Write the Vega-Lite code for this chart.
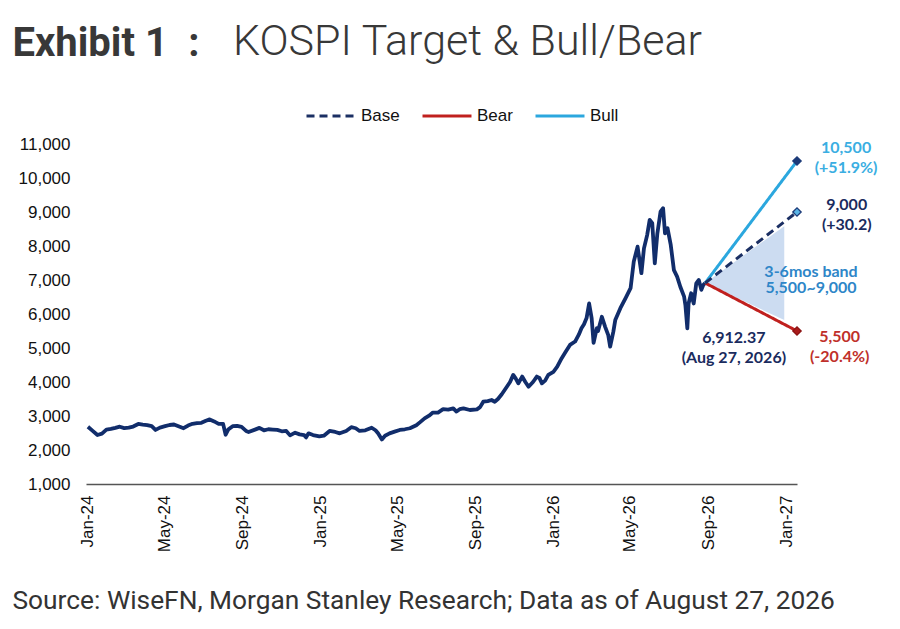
{
  "$schema": "https://vega.github.io/schema/vega-lite/v6.json",
  "width": 711,
  "height": 340,
  "autosize": "none",
  "padding": {"left": 86, "top": 144, "right": 103, "bottom": 145},
  "background": "white",
  "title": {
    "text": "KOSPI Target & Bull/Bear",
    "anchor": "start",
    "frame": "group",
    "dx": 147,
    "offset": -41,
    "font": "Roboto",
    "fontSize": 43,
    "fontWeight": 300,
    "color": "#383838"
  },
  "config": {
    "view": {"stroke": null},
    "font": "Liberation Sans",
    "legend": {
      "orient": "none",
      "legendX": 219,
      "legendY": -54,
      "direction": "horizontal",
      "symbolType": "stroke",
      "symbolSize": 2400,
      "symbolStrokeWidth": 3,
      "labelFontSize": 17,
      "labelFont": "Liberation Sans",
      "labelColor": "#111111",
      "columnPadding": 16,
      "labelOffset": 4
    }
  },
  "datasets": {
    "hist": [
      {"date": "2024-01-02", "value": 2685}, {"date": "2024-01-09", "value": 2570}, {"date": "2024-01-17", "value": 2440},
      {"date": "2024-01-24", "value": 2480}, {"date": "2024-01-31", "value": 2600}, {"date": "2024-02-07", "value": 2620},
      {"date": "2024-02-14", "value": 2650}, {"date": "2024-02-21", "value": 2685}, {"date": "2024-02-28", "value": 2645},
      {"date": "2024-03-06", "value": 2660}, {"date": "2024-03-13", "value": 2690}, {"date": "2024-03-21", "value": 2765},
      {"date": "2024-03-28", "value": 2745}, {"date": "2024-04-04", "value": 2730}, {"date": "2024-04-11", "value": 2700},
      {"date": "2024-04-17", "value": 2590}, {"date": "2024-04-24", "value": 2660}, {"date": "2024-05-02", "value": 2700},
      {"date": "2024-05-09", "value": 2735}, {"date": "2024-05-16", "value": 2750}, {"date": "2024-05-24", "value": 2690},
      {"date": "2024-05-31", "value": 2640}, {"date": "2024-06-07", "value": 2720}, {"date": "2024-06-14", "value": 2770},
      {"date": "2024-06-21", "value": 2790}, {"date": "2024-06-28", "value": 2800}, {"date": "2024-07-05", "value": 2860},
      {"date": "2024-07-11", "value": 2900}, {"date": "2024-07-18", "value": 2840}, {"date": "2024-07-25", "value": 2770},
      {"date": "2024-08-01", "value": 2770}, {"date": "2024-08-05", "value": 2450}, {"date": "2024-08-09", "value": 2600},
      {"date": "2024-08-16", "value": 2700}, {"date": "2024-08-23", "value": 2710}, {"date": "2024-08-30", "value": 2680},
      {"date": "2024-09-06", "value": 2560}, {"date": "2024-09-10", "value": 2530}, {"date": "2024-09-20", "value": 2600},
      {"date": "2024-09-27", "value": 2650}, {"date": "2024-10-04", "value": 2580}, {"date": "2024-10-11", "value": 2610},
      {"date": "2024-10-18", "value": 2600}, {"date": "2024-10-25", "value": 2590}, {"date": "2024-11-01", "value": 2550},
      {"date": "2024-11-08", "value": 2560}, {"date": "2024-11-14", "value": 2430}, {"date": "2024-11-22", "value": 2510},
      {"date": "2024-11-29", "value": 2460}, {"date": "2024-12-06", "value": 2440}, {"date": "2024-12-09", "value": 2370},
      {"date": "2024-12-13", "value": 2490}, {"date": "2024-12-20", "value": 2440}, {"date": "2024-12-30", "value": 2400},
      {"date": "2025-01-06", "value": 2420}, {"date": "2025-01-15", "value": 2560}, {"date": "2025-01-24", "value": 2530},
      {"date": "2025-01-31", "value": 2490}, {"date": "2025-02-10", "value": 2560}, {"date": "2025-02-18", "value": 2670},
      {"date": "2025-02-25", "value": 2640}, {"date": "2025-03-03", "value": 2560}, {"date": "2025-03-12", "value": 2580},
      {"date": "2025-03-22", "value": 2655}, {"date": "2025-03-28", "value": 2580}, {"date": "2025-04-01", "value": 2490},
      {"date": "2025-04-07", "value": 2310}, {"date": "2025-04-12", "value": 2420}, {"date": "2025-04-19", "value": 2490},
      {"date": "2025-04-27", "value": 2540}, {"date": "2025-05-05", "value": 2590}, {"date": "2025-05-13", "value": 2610},
      {"date": "2025-05-21", "value": 2640}, {"date": "2025-05-31", "value": 2730}, {"date": "2025-06-06", "value": 2820},
      {"date": "2025-06-13", "value": 2930}, {"date": "2025-06-20", "value": 3010}, {"date": "2025-06-26", "value": 3100},
      {"date": "2025-07-04", "value": 3100}, {"date": "2025-07-12", "value": 3200}, {"date": "2025-07-20", "value": 3190},
      {"date": "2025-07-28", "value": 3225}, {"date": "2025-08-02", "value": 3130}, {"date": "2025-08-07", "value": 3200},
      {"date": "2025-08-13", "value": 3225}, {"date": "2025-08-23", "value": 3176}, {"date": "2025-09-03", "value": 3196},
      {"date": "2025-09-08", "value": 3260}, {"date": "2025-09-13", "value": 3420}, {"date": "2025-09-20", "value": 3440},
      {"date": "2025-09-26", "value": 3470}, {"date": "2025-10-01", "value": 3420}, {"date": "2025-10-06", "value": 3500},
      {"date": "2025-10-12", "value": 3640}, {"date": "2025-10-20", "value": 3860}, {"date": "2025-10-25", "value": 4000},
      {"date": "2025-10-30", "value": 4210}, {"date": "2025-11-03", "value": 4100}, {"date": "2025-11-07", "value": 3960},
      {"date": "2025-11-13", "value": 4160}, {"date": "2025-11-18", "value": 4000}, {"date": "2025-11-23", "value": 3860},
      {"date": "2025-11-30", "value": 4000}, {"date": "2025-12-06", "value": 4160}, {"date": "2025-12-10", "value": 4120},
      {"date": "2025-12-14", "value": 3960}, {"date": "2025-12-19", "value": 4040}, {"date": "2025-12-24", "value": 4210},
      {"date": "2026-01-01", "value": 4300}, {"date": "2026-01-07", "value": 4450}, {"date": "2026-01-14", "value": 4700},
      {"date": "2026-01-20", "value": 4880}, {"date": "2026-01-27", "value": 5090}, {"date": "2026-02-04", "value": 5190},
      {"date": "2026-02-10", "value": 5400}, {"date": "2026-02-14", "value": 5580}, {"date": "2026-02-18", "value": 5700},
      {"date": "2026-02-22", "value": 5880}, {"date": "2026-02-26", "value": 6310}, {"date": "2026-03-02", "value": 5870},
      {"date": "2026-03-05", "value": 5150}, {"date": "2026-03-10", "value": 5580}, {"date": "2026-03-12", "value": 5500},
      {"date": "2026-03-18", "value": 5920}, {"date": "2026-03-23", "value": 5630}, {"date": "2026-03-28", "value": 5380},
      {"date": "2026-03-31", "value": 5040}, {"date": "2026-04-05", "value": 5480}, {"date": "2026-04-08", "value": 5820},
      {"date": "2026-04-16", "value": 6170}, {"date": "2026-04-24", "value": 6460}, {"date": "2026-05-02", "value": 6760},
      {"date": "2026-05-07", "value": 7540}, {"date": "2026-05-13", "value": 7980}, {"date": "2026-05-19", "value": 7200},
      {"date": "2026-05-23", "value": 7930}, {"date": "2026-05-28", "value": 8320}, {"date": "2026-06-01", "value": 8770},
      {"date": "2026-06-05", "value": 8670}, {"date": "2026-06-09", "value": 7490}, {"date": "2026-06-13", "value": 8370},
      {"date": "2026-06-18", "value": 9010}, {"date": "2026-06-22", "value": 9110}, {"date": "2026-06-25", "value": 8370},
      {"date": "2026-06-29", "value": 8520}, {"date": "2026-07-04", "value": 8030}, {"date": "2026-07-09", "value": 7290},
      {"date": "2026-07-14", "value": 7100}, {"date": "2026-07-19", "value": 6800}, {"date": "2026-07-25", "value": 6510},
      {"date": "2026-07-27", "value": 6260}, {"date": "2026-07-30", "value": 5580}, {"date": "2026-08-01", "value": 6310},
      {"date": "2026-08-05", "value": 6610}, {"date": "2026-08-09", "value": 6310}, {"date": "2026-08-13", "value": 6900},
      {"date": "2026-08-17", "value": 7000}, {"date": "2026-08-21", "value": 6710}, {"date": "2026-08-24", "value": 6850},
      {"date": "2026-08-27", "value": 6912.37}
    ],
    "proj": [
      {"scenario": "Bear", "date": "2026-08-27", "value": 6912.37},
      {"scenario": "Bear", "date": "2027-01-18", "value": 5500},
      {"scenario": "Bull", "date": "2026-08-27", "value": 6912.37},
      {"scenario": "Bull", "date": "2027-01-18", "value": 10500},
      {"scenario": "Base", "date": "2026-08-27", "value": 6912.37},
      {"scenario": "Base", "date": "2027-01-18", "value": 9000}
    ],
    "targets": [
      {"scenario": "Bear", "date": "2027-01-18", "value": 5500},
      {"scenario": "Bull", "date": "2027-01-18", "value": 10500},
      {"scenario": "Base", "date": "2027-01-18", "value": 9000}
    ],
    "band": [
      {"date": "2026-08-27", "low": 6912.37, "high": 6912.37},
      {"date": "2026-12-29", "low": 5820, "high": 8580}
    ],
    "notes": [
      {"kind": "Bull", "date": "2027-04-05", "value": 10880, "text": "10,500"},
      {"kind": "Bull", "date": "2027-04-05", "value": 10290, "text": "(+51.9%)"},
      {"kind": "Base", "date": "2027-04-06", "value": 9210, "text": "9,000"},
      {"kind": "Base", "date": "2027-04-06", "value": 8620, "text": "(+30.2)"},
      {"kind": "Band", "date": "2027-02-09", "value": 7235, "text": "3-6mos band"},
      {"kind": "Band", "date": "2027-02-09", "value": 6765, "text": "5,500~9,000"},
      {"kind": "Last", "date": "2026-10-11", "value": 5294, "text": "6,912.37"},
      {"kind": "Last", "date": "2026-10-11", "value": 4706, "text": "(Aug 27, 2026)"},
      {"kind": "Bear", "date": "2027-03-26", "value": 5323, "text": "5,500"},
      {"kind": "Bear", "date": "2027-03-26", "value": 4735, "text": "(-20.4%)"}
    ]
  },
  "layer": [
    {
      "data": {"name": "band"},
      "mark": {"type": "area", "color": "#c6d8ef", "opacity": 0.9},
      "encoding": {
        "x": {
          "field": "date",
          "type": "temporal",
          "scale": {"domain": ["2023-12-30", "2027-01-18"]},
          "axis": {
            "values": [
              {"year": 2024, "month": 1, "date": 1}, {"year": 2024, "month": 5, "date": 1}, {"year": 2024, "month": 9, "date": 1},
              {"year": 2025, "month": 1, "date": 1}, {"year": 2025, "month": 5, "date": 1}, {"year": 2025, "month": 9, "date": 1},
              {"year": 2026, "month": 1, "date": 1}, {"year": 2026, "month": 5, "date": 1}, {"year": 2026, "month": 9, "date": 1},
              {"year": 2027, "month": 1, "date": 1}
            ],
            "tickCount": 12,
            "format": "%b-%y",
            "labelAngle": -90,
            "labelAlign": "right",
            "labelBaseline": "middle",
            "labelFontSize": 17,
            "labelFont": "Liberation Sans",
            "labelColor": "#111111",
            "labelPadding": 11,
            "ticks": false,
            "grid": false,
            "domainColor": "#555555",
            "domainWidth": 1.5,
            "labelOverlap": false,
            "title": "Source: WiseFN, Morgan Stanley Research; Data as of August 27, 2026",
            "titleFont": "Roboto",
            "titleFontSize": 26.3,
            "titleFontWeight": "normal",
            "titleColor": "#333333",
            "titleAnchor": "start",
            "titleAlign": "left",
            "titleBaseline": "middle",
            "titleAngle": 0,
            "titleX": -74,
            "titleY": 116
          }
        },
        "y": {
          "field": "high",
          "type": "quantitative",
          "scale": {"domain": [1000, 11000], "nice": false, "zero": false},
          "axis": {
            "values": [1000, 2000, 3000, 4000, 5000, 6000, 7000, 8000, 9000, 10000, 11000],
            "tickCount": 11,
            "format": ",d",
            "labelFontSize": 17,
            "labelFont": "Liberation Sans",
            "labelColor": "#111111",
            "labelPadding": 16,
            "labelOverlap": false,
            "ticks": false,
            "domain": false,
            "grid": false,
            "title": "Exhibit 1\u2002:",
            "titleFont": "Roboto",
            "titleFontSize": 40,
            "titleFontWeight": "bold",
            "titleColor": "#383838",
            "titleAngle": 0,
            "titleAlign": "left",
            "titleBaseline": "middle",
            "titleX": -74,
            "titleY": -101
          }
        },
        "y2": {"field": "low"}
      }
    },
    {
      "data": {"name": "hist"},
      "mark": {"type": "line", "color": "#112d6b", "strokeWidth": 3.8, "strokeJoin": "round"},
      "encoding": {
        "x": {"field": "date", "type": "temporal"},
        "y": {"field": "value", "type": "quantitative"}
      }
    },
    {
      "data": {"name": "proj"},
      "mark": {"type": "line", "strokeWidth": 3},
      "encoding": {
        "x": {"field": "date", "type": "temporal"},
        "y": {"field": "value", "type": "quantitative"},
        "color": {
          "field": "scenario",
          "type": "nominal",
          "scale": {"domain": ["Base", "Bear", "Bull"], "range": ["#1b2f63", "#c0201e", "#2ba7de"]},
          "legend": {"title": null}
        },
        "strokeDash": {
          "field": "scenario",
          "type": "nominal",
          "scale": {"domain": ["Base", "Bear", "Bull"], "range": [[8, 5], [1, 0], [1, 0]]},
          "legend": {"title": null}
        }
      }
    },
    {
      "data": {"name": "targets"},
      "mark": {"type": "point", "shape": "diamond", "filled": true, "size": 70, "strokeWidth": 1.3, "opacity": 1},
      "encoding": {
        "x": {"field": "date", "type": "temporal"},
        "y": {"field": "value", "type": "quantitative"},
        "fill": {
          "field": "scenario",
          "type": "nominal",
          "scale": {"domain": ["Base", "Bear", "Bull"], "range": ["#5ab4e5", "#a91b1b", "#1c3a78"]},
          "legend": null
        },
        "stroke": {
          "field": "scenario",
          "type": "nominal",
          "scale": {"domain": ["Base", "Bear", "Bull"], "range": ["#1c3a78", "#8b1212", "#1c3a78"]},
          "legend": null
        }
      }
    },
    {
      "data": {"name": "notes"},
      "mark": {"type": "text", "font": "Lato", "fontWeight": "bold", "fontSize": 16, "align": "center", "baseline": "middle"},
      "encoding": {
        "x": {"field": "date", "type": "temporal"},
        "y": {"field": "value", "type": "quantitative"},
        "text": {"field": "text", "type": "nominal"},
        "fill": {
          "field": "kind",
          "type": "nominal",
          "scale": {"domain": ["Bull", "Base", "Band", "Last", "Bear"], "range": ["#3aaee2", "#1a2b5e", "#2e86c8", "#1a2b5e", "#c0302a"]},
          "legend": null
        }
      }
    }
  ],
  "resolve": {"scale": {"fill": "independent"}}
}
